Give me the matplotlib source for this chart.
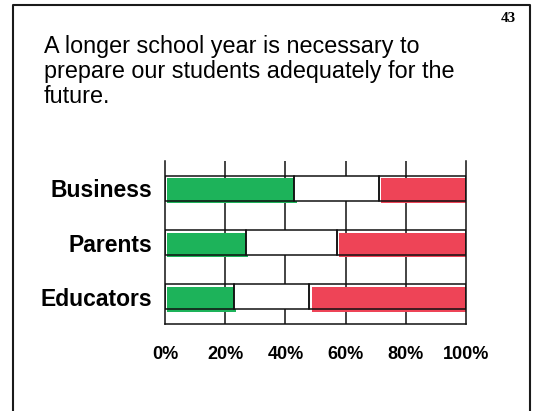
import matplotlib.pyplot as plt
import matplotlib.transforms as mtransforms
from matplotlib.lines import Line2D

# survey response shares (percent): agree / neutral / disagree
groups = ['Business', 'Parents', 'Educators']
agree = [43, 27, 23]
neutral = [28, 30, 25]
disagree = [29, 43, 52]
tick_labels = ['0%', '20%', '40%', '60%', '80%', '100%']

GREEN = '#1db35a'
RED = '#ee4457'

plt.rcParams['font.family'] = ['Liberation Sans', 'DejaVu Sans']

fig = plt.figure(figsize=(5.35, 4.11), dpi=100)
fig.patch.set_facecolor('white')

# slide border (left, top, right)
W, H = 535, 411
border = Line2D([13 / W, 13 / W, 530 / W, 530 / W],
                [0, 1 - 5 / H, 1 - 5 / H, 0],
                transform=fig.transFigure, color='#1a1a1a', lw=1.5)
fig.add_artist(border)

fig.text(501 / W, 1 - 18 / H, '43', family='Liberation Serif', weight='bold',
         fontsize=11, va='center', ha='left')

fig.text(44 / W, 1 - 35 / H,
         'A longer school year is necessary to\n'
         'prepare our students adequately for the\n'
         'future.',
         fontsize=16.8, ha='left', va='top', linespacing=1.1)

ax = fig.add_axes([165 / W, 87 / H, 301 / W, 163 / H])

y = list(range(len(groups)))
left_neutral = [a for a in agree]
left_dis = [a + n for a, n in zip(agree, neutral)]
h = 0.46

# coloured fills sit slightly offset from the outlines
shift = mtransforms.offset_copy(ax.transData, fig=fig, x=1.5, y=-1.8, units='points')
for vals, lefts, col in [(agree, [0] * 3, GREEN), (disagree, left_dis, RED)]:
    bars = ax.barh(y, vals, left=lefts, height=h, color=col, edgecolor='none', zorder=2)
    for b in bars:
        b.set_transform(shift)

ax.barh(y, neutral, left=left_neutral, height=h, color='white', edgecolor='none', zorder=3)
for vals, lefts in [(agree, [0] * 3), (neutral, left_neutral), (disagree, left_dis)]:
    ax.barh(y, vals, left=lefts, height=h, fill=False, edgecolor='#111111',
            linewidth=1.1, zorder=4)

ax.set_xlim(0, 100)
ax.set_ylim(len(groups) - 0.5, -0.5)
ax.set_xticks(range(0, 101, 20))
ax.set_xticklabels(tick_labels, fontsize=13, weight='bold')
ax.set_yticks(y)
ax.set_yticklabels(groups, fontsize=16.5, weight='bold')
ax.tick_params(axis='x', length=0, pad=16)
ax.tick_params(axis='y', length=0, pad=9)

for x in range(20, 100, 20):
    ax.axvline(x, color='#111111', lw=1.1, zorder=1)

ax.spines['top'].set_visible(False)
for s in ['left', 'right', 'bottom']:
    ax.spines[s].set_linewidth(1.1)
    ax.spines[s].set_color('#111111')

fig.savefig('out.png', dpi=100)
